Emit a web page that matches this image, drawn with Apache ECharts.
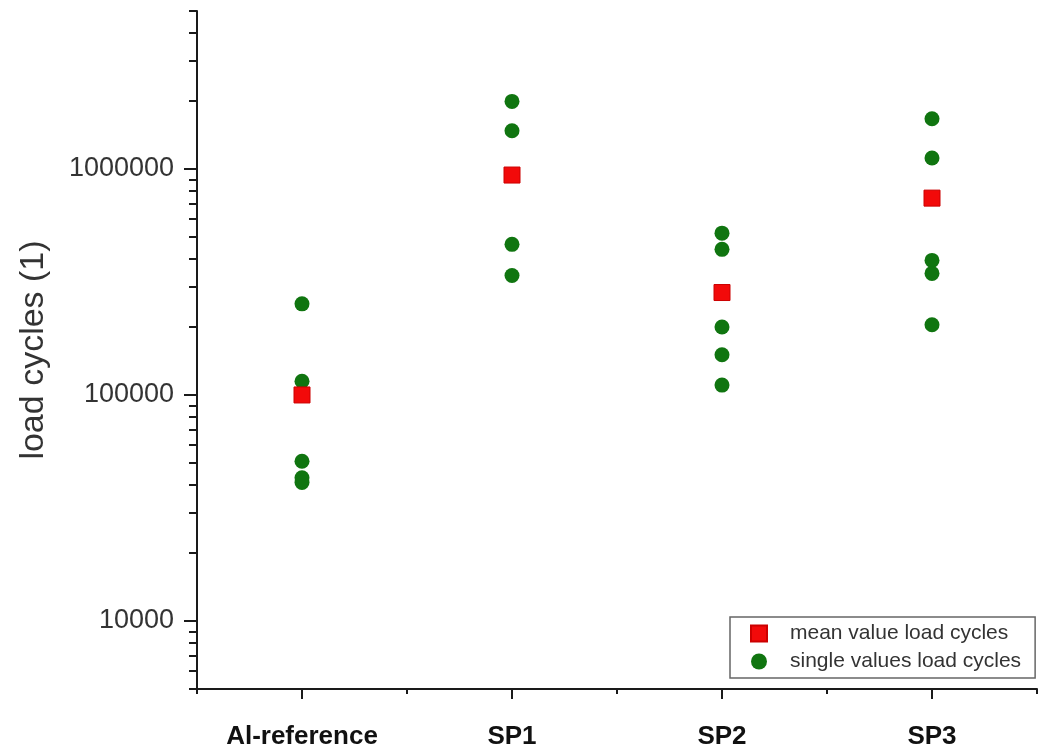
<!DOCTYPE html>
<html>
<head>
<meta charset="utf-8">
<script src="https://cdn.jsdelivr.net/npm/echarts@6/dist/echarts.min.js"></script>
<style>
  html, body { margin: 0; padding: 0; background: #fff; }
  #main { width: 1038px; height: 751px; }
</style>
</head>
<body>
<div id="main"></div>
<script>
const categories = ['Al-reference', 'SP1', 'SP2', 'SP3'];
const meanValues = [100000, 940000, 284000, 743000];
const alRefValues = [253000, 115000, 50900, 43000, 41000];
const sp1Values = [1990000, 1475000, 464000, 338000];
const sp2Values = [520000, 441000, 200000, 150600, 110600];
const sp3Values = [1668000, 1119000, 394000, 345000, 204600];
const majorTicks = [10000, 100000, 1000000];
const minorTicks = [5000, 6000, 7000, 8000, 9000,
  20000, 30000, 40000, 50000, 60000, 70000, 80000, 90000,
  200000, 300000, 400000, 500000, 600000, 700000, 800000, 900000,
  2000000, 3000000, 4000000, 5000000];

const singleGroups = [alRefValues, sp1Values, sp2Values, sp3Values];
const singleData = [];
singleGroups.forEach((vals, i) => {
  vals.forEach(v => singleData.push([categories[i], v]));
});
const meanData = meanValues.map((v, i) => [categories[i], v]);

const axisColor = '#1a1a1a';
const font = 'Liberation Sans, Arial, sans-serif';

const option = {
  animation: false,
  backgroundColor: '#fff',
  grid: { left: 197, right: 1, top: 11, bottom: 62 },
  legend: {
    orient: 'vertical',
    left: 730,
    top: 617,
    padding: [6, 14, 6, 20],
    itemGap: 7,
    itemWidth: 16,
    itemHeight: 16,
    borderColor: '#666',
    borderWidth: 1.5,
    borderRadius: 0,
    data: [
      { name: 'mean value load cycles', icon: 'rect' },
      { name: 'single values load cycles', icon: 'circle' }
    ],
    textStyle: { fontFamily: font, fontSize: 21, color: '#333', padding: [0, 0, 0, 18] }
  },
  xAxis: [
    {
      type: 'category',
      data: categories,
      position: 'bottom',
      axisLine: { show: true, lineStyle: { color: axisColor, width: 2 } },
      axisTick: { show: true, alignWithLabel: true, length: 10, lineStyle: { color: axisColor, width: 2 } },
      axisLabel: { show: true, margin: 35, fontFamily: font, fontSize: 26, fontWeight: 'bold', color: '#111' }
    },
    {
      type: 'category',
      data: categories,
      position: 'bottom',
      axisLine: { show: false },
      axisTick: { show: true, length: 5, lineStyle: { color: axisColor, width: 2 } },
      axisLabel: { show: false }
    }
  ],
  yAxis: [
    {
      type: 'log',
      logBase: 10,
      min: 5000,
      max: 5000000,
      position: 'left',
      name: 'load cycles (1)',
      nameLocation: 'middle',
      nameGap: 146,
      nameTextStyle: { fontFamily: font, fontSize: 34, color: '#333' },
      splitLine: { show: false },
      axisLine: { show: true, lineStyle: { color: axisColor, width: 2 } },
      axisTick: { show: true, customValues: majorTicks, length: 13, lineStyle: { color: axisColor, width: 2 } },
      axisLabel: {
        show: true,
        customValues: majorTicks,
        margin: 23,
        fontFamily: font,
        fontSize: 27,
        color: '#333',
        formatter: v => String(Math.round(v))
      }
    },
    {
      type: 'log',
      logBase: 10,
      min: 5000,
      max: 5000000,
      position: 'left',
      splitLine: { show: false },
      axisLine: { show: false },
      axisTick: { show: true, customValues: minorTicks, length: 8, lineStyle: { color: axisColor, width: 2 } },
      axisLabel: { show: false }
    }
  ],
  series: [
    {
      name: 'single values load cycles',
      type: 'scatter',
      symbol: 'circle',
      symbolSize: 15,
      itemStyle: { color: '#107510', opacity: 1 },
      data: singleData
    },
    {
      name: 'mean value load cycles',
      type: 'scatter',
      symbol: 'rect',
      symbolSize: 16,
      itemStyle: { color: '#f20a0a', borderColor: '#c00', borderWidth: 1, opacity: 1 },
      data: meanData
    }
  ]
};

const chart = echarts.init(document.getElementById('main'), null, { renderer: 'canvas' });
chart.setOption(option);
</script>
</body>
</html>
